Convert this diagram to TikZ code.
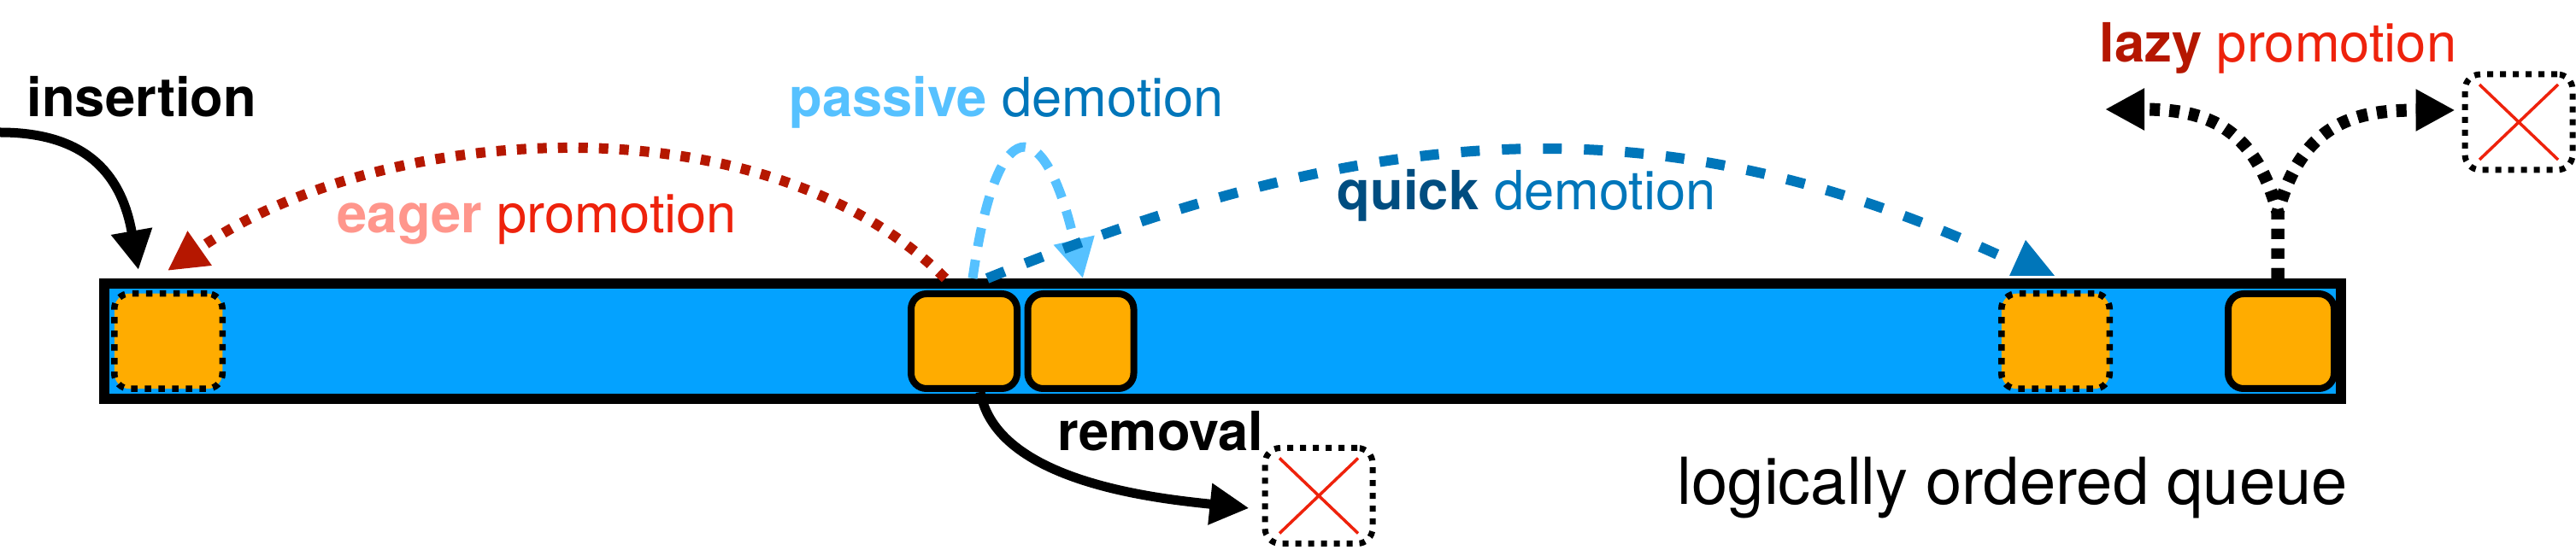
\documentclass[tikz,border=0pt]{standalone}
\usepackage{fontspec}
\setmainfont{TeX Gyre Heros}
\usetikzlibrary{arrows.meta,positioning}
\definecolor{qblue}{RGB}{4,162,255}
\definecolor{korange}{RGB}{255,172,0}
\definecolor{kdarkred}{RGB}{181,23,0}
\definecolor{kred}{RGB}{238,34,12}
\definecolor{ksalmon}{RGB}{255,150,140}
\definecolor{klightblue}{RGB}{86,193,255}
\definecolor{kblue}{RGB}{0,118,186}
\definecolor{kdarkblue}{RGB}{0,77,128}
\begin{document}
\begin{tikzpicture}
    \tikzstyle{arrow} = [line width = 0.11cm, -{Triangle[length = 0.46cm, width = 0.46cm]}]
    \tikzstyle{queue} = [rectangle, minimum width = 26.17cm, minimum height = 1.35cm, line width = 0.12cm, draw = black, fill = qblue]
    \tikzstyle{item} = [rectangle, rounded corners = 0.18cm, minimum width = 1.24cm, minimum height = 1.11cm, line width = 0.08cm, draw = black, fill = korange]
    \tikzstyle{ghost} = [item, minimum width = 1.265cm, minimum height = 1.115cm, line width = 0.075cm, dash pattern = on 0.075cm off 0.085cm]
    \tikzstyle{gone} = [rectangle, rounded corners = 0.18cm, minimum width = 1.26cm, minimum height = 1.12cm, line width = 0.07cm, dash pattern = on 0.07cm off 0.08cm, draw = black,
        path picture = {\draw[kred, line width = 0.035cm, solid] ([shift = {(0.17,-0.12)}]path picture bounding box.north west) -- ([shift = {(-0.17,0.12)}]path picture bounding box.south east) ([shift = {(-0.17,-0.12)}]path picture bounding box.north east) -- ([shift = {(0.17,0.12)}]path picture bounding box.south west);}]
    \tikzstyle{txt} = [anchor = base west, inner sep = 0pt, font = \fontsize{18pt}{20pt}\selectfont]
    \tikzstyle{eager} = [arrow, draw = kdarkred, line width = 0.12cm, dash pattern = on 0.11cm off 0.13cm]
    \tikzstyle{passive} = [arrow, draw = klightblue, dash pattern = on 0.22cm off 0.16cm]
    \tikzstyle{quick} = [draw = kblue, line width = 0.12cm, dash pattern = on 0.22cm off 0.26cm]
    \tikzstyle{lazy} = [arrow, line width = 0.15cm, dash pattern = on 0.12cm off 0.11cm]

    \useasboundingbox (0,0) rectangle (30.14,6.44);

    \node[queue](Q) at (14.305,2.445){};
    \node[ghost](B1) at (1.97,2.445){};
    \node[item, right of = B1, xshift = 8.31cm](B2){};
    \node[item, right of = B2, xshift = 0.365cm](B3){};
    \node[ghost, right of = B3, xshift = 10.405cm](B4){};
    \node[item, right of = B4, xshift = 1.64cm](B5){};
    \node[gone](X1) at (15.43,0.635){};
    \node[gone](X2) at (29.47,5.01){};
    \coordinate (A) at (0,4.89);
    \coordinate (F) at (26.65,3.95);
    \coordinate (L) at (24.63,5.16);

    \node[txt](text1) at (0.31,5.07){\textbf{insertion}};
    \node[txt](text2) at (3.94,3.71){\textcolor{ksalmon}{\textbf{eager}} \textcolor{kred}{promotion}};
    \node[txt](text3) at (9.23,5.07){\textcolor{klightblue}{\textbf{passive}} \textcolor{kblue}{demotion}};
    \node[txt](text4) at (15.64,3.98){\textcolor{kdarkblue}{\textbf{quick}} \textcolor{kblue}{demotion}};
    \node[txt](text5) at (24.56,5.71){\textcolor{kdarkred}{\textbf{lazy}} \textcolor{kred}{promotion}};
    \node[txt](text6) at (12.37,1.16){\textbf{removal}};
    \node[txt, font = \fontsize{21.6pt}{24pt}\selectfont](text7) at (19.62,0.53){logically ordered queue};

    \draw[arrow] (A) to[out = 0, in = 100, looseness = 1.2] ([shift = {(-0.35,0.24)}]B1.north);
    \draw[eager] ([shift = {(-0.22,0.14)}]B2.north) to[out = 135, in = 35, looseness = 0.85] ([shift = {(-0.01,0.23)}]B1.north);
    \draw[passive] ([shift = {(0.10,0.14)}]B2.north) to[out = 82, in = 103, looseness = 4] ([shift = {(0.025,0.14)}]B3.north);
    \draw[quick] ([shift = {(0.27,0.14)}]B2.north) to[out = 22, in = 155] ([shift = {(-0.55,0.36)}]B4.north);
    \fill[kblue] ([shift = {(-0.35,0.59)}]B4.north) -- ([shift = {(-0.54,0.17)}]B4.north) -- ([shift = {(-0.01,0.17)}]B4.north) -- cycle;
    \draw[arrow] ([xshift = 0.19cm]B2.south) to[out = -80, in = 174, looseness = 0.8] ([shift = {(-0.15,-0.145)}]X1.west);
    \draw[lazy] ([shift = {(-0.04,0.14)}]B5.north) -- (F) to[out = 105, in = 0, looseness = 1.2] (L);
    \draw[lazy] ([shift = {(-0.04,0.14)}]B5.north) -- (F) to[out = 75, in = 180, looseness = 1.2] ([shift = {(-0.08,0.14)}]X2.west);
\end{tikzpicture}
\end{document}
